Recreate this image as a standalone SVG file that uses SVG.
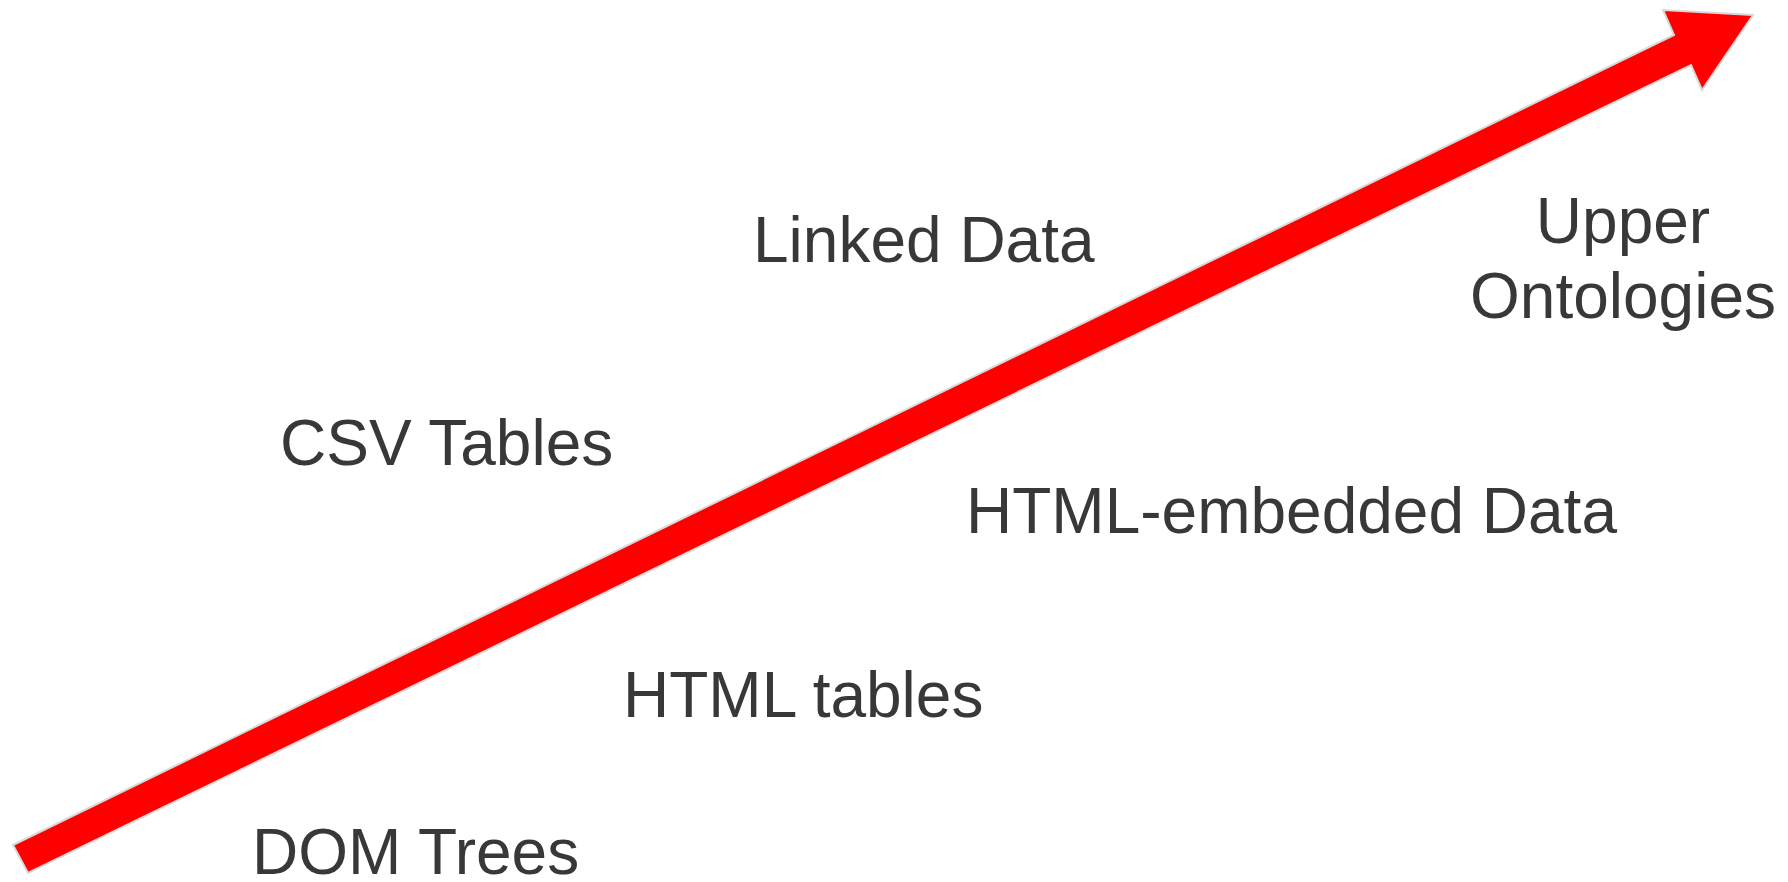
<svg xmlns="http://www.w3.org/2000/svg" width="1788" height="882" viewBox="0 0 1788 882">
  <style>
    .lbl { font-family: "Liberation Sans", Arial, sans-serif; font-size: 64px; fill: #383838; }
    .arrow { fill: #ff0000; stroke: #d9d9d9; stroke-width: 2; stroke-linejoin: miter; }
  </style>
  <rect width="1788" height="882" fill="#ffffff"/>
  <g id="connectors">
    <polygon class="arrow" points="13,845 1674,35 1663,10 1753,15 1702,90 1691,65 28,873"/>
  </g>
  <g id="dom-trees"><text class="lbl" x="252" y="874">DOM Trees</text></g>
  <g id="csv-tables"><text class="lbl" x="280" y="465">CSV Tables</text></g>
  <g id="html-tables"><text class="lbl" x="623" y="717">HTML tables</text></g>
  <g id="linked-data"><text class="lbl" x="753" y="262">Linked Data</text></g>
  <g id="html-embedded-data"><text class="lbl" x="966" y="533">HTML-embedded Data</text></g>
  <g id="upper-ontologies">
    <text class="lbl" x="1623" y="243" text-anchor="middle">Upper</text>
    <text class="lbl" x="1623" y="318" text-anchor="middle">Ontologies</text>
  </g>
</svg>
